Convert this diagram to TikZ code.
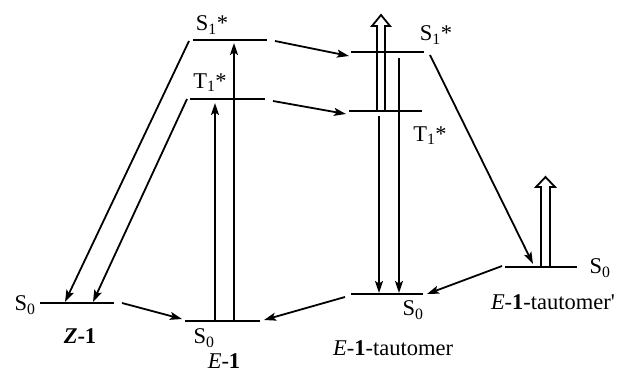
\documentclass[tikz,border=0pt]{standalone}
\usepackage{fontspec}
\setmainfont{Liberation Serif}
\usetikzlibrary{arrows.meta}
\begin{document}
\begin{tikzpicture}[x=1pt,y=-1pt,
  level/.style={line width=2.8pt},
  trans/.style={line width=1.8pt,-{Stealth[length=12pt,width=8pt,inset=2.5pt]}},
  hollow/.style={line width=1.8pt, line join=miter},
  lbl/.style={font=\fontsize{22.5}{26}\selectfont, inner sep=0pt}]
\useasboundingbox (0,0) rectangle (625,374);
% level end points
\coordinate (zL) at (40,303);   \coordinate (zR) at (114,303);
\coordinate (eS0L) at (185,321); \coordinate (eS0R) at (260,321);
\coordinate (eT1L) at (190,99);  \coordinate (eT1R) at (265,99);
\coordinate (eS1L) at (193,40);  \coordinate (eS1R) at (267,40);
\coordinate (tS1L) at (351,52);  \coordinate (tS1R) at (424,52);
\coordinate (tT1L) at (349,111); \coordinate (tT1R) at (422,111);
\coordinate (tS0L) at (351,294); \coordinate (tS0R) at (423,294);
\coordinate (pS0L) at (505,267); \coordinate (pS0R) at (577,267);
\foreach \a/\b in {zL/zR,eS0L/eS0R,eT1L/eT1R,eS1L/eS1R,tS1L/tS1R,tT1L/tT1R,tS0L/tS0R,pS0L/pS0R}
  \draw[level] (\a) -- (\b);
% connector end points
\coordinate (u1a) at (215,321); \coordinate (u1b) at (215,103);
\coordinate (u2a) at (234,321); \coordinate (u2b) at (234,43);
\coordinate (d1a) at (189,41);  \coordinate (d1b) at (65,302);
\coordinate (d2a) at (187,99);  \coordinate (d2b) at (93,302);
\coordinate (c1a) at (275,41);  \coordinate (c1b) at (349,56);
\coordinate (c2a) at (273,101); \coordinate (c2b) at (346,114);
\coordinate (v1a) at (399,58);  \coordinate (v1b) at (399,293);
\coordinate (v2a) at (379,116); \coordinate (v2b) at (379,293);
\coordinate (g1a) at (430,55);  \coordinate (g1b) at (533,264);
\coordinate (g2a) at (502,266); \coordinate (g2b) at (427,294);
\coordinate (g3a) at (345,297); \coordinate (g3b) at (264,320);
\coordinate (g4a) at (122,303); \coordinate (g4b) at (182,319);
\foreach \a/\b in {u1a/u1b,u2a/u2b,d1a/d1b,d2a/d2b,c1a/c1b,c2a/c2b,v1a/v1b,v2a/v2b,g1a/g1b,g2a/g2b,g3a/g3b,g4a/g4b}
  \draw[trans] (\a) -- (\b);
% hollow arrows
\coordinate (h1) at (381,15);
\draw[hollow] (377,111) -- (377,26) -- (372,26) -- (h1) -- (390,26) -- (385,26) -- (385,111);
\coordinate (h2) at (545.5,177);
\draw[hollow] (541,267) -- (541,187) -- (536,187) -- (h2) -- (555,187) -- (550,187) -- (550,267);
% labels
\node[lbl] (lS1e) at (212,25) {S\textsubscript{1}*};
\node[lbl] (lT1e) at (210,83) {T\textsubscript{1}*};
\node[lbl] (lS1t) at (436,35) {S\textsubscript{1}*};
\node[lbl] (lT1t) at (430,136) {T\textsubscript{1}*};
\node[lbl] (lS0z) at (25,305) {S\textsubscript{0}};
\node[lbl] (lZ) at (80,336) {\textbf{\textit{Z}-1}};
\node[lbl] (lS0e) at (204,338) {S\textsubscript{0}};
\node[lbl] (lE) at (224,361) {\textit{E}-\textbf{1}};
\node[lbl] (lS0t) at (413,310) {S\textsubscript{0}};
\node[lbl] (lEt) at (393,348) {\textit{E}-\textbf{1}-tautomer};
\node[lbl] (lS0p) at (600,268) {S\textsubscript{0}};
\node[lbl] (lEp) at (553,302) {\textit{E}-\textbf{1}-tautomer\textquotesingle};
\end{tikzpicture}
\end{document}
